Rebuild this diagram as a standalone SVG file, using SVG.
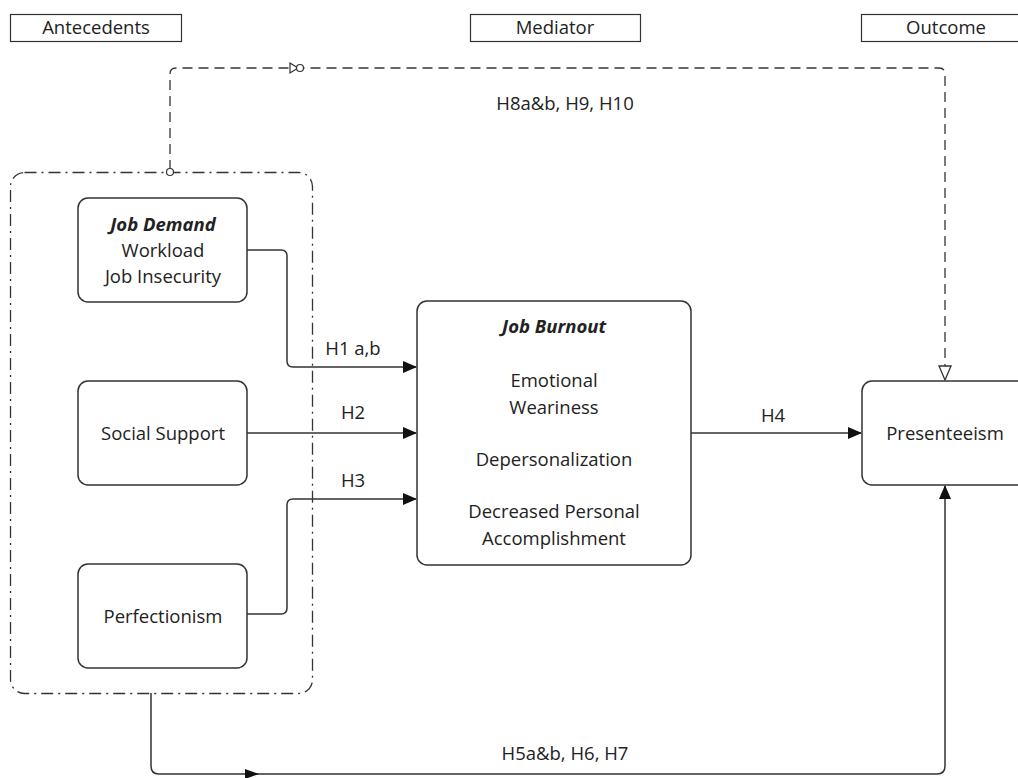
<svg xmlns="http://www.w3.org/2000/svg" width="1018" height="778" viewBox="0 0 1018 778">
<style>
text{font-family:"Open Sans","Liberation Sans",sans-serif;font-size:18.5px;fill:#222;text-anchor:middle}
.node{fill:#fff;stroke:#333;stroke-width:1.5}
.hdr{fill:#fff;stroke:#333;stroke-width:1.2}
.ln{fill:none;stroke:#333;stroke-width:1.5}
.dash{fill:none;stroke:#333;stroke-width:1.3;stroke-dasharray:10,6}
.grp{fill:none;stroke:#333;stroke-width:1.3;stroke-dasharray:12,5,2,5}
.bi{font-weight:bold;font-style:italic}
</style>
<defs>
<marker id="arr" markerWidth="14" markerHeight="12" refX="13" refY="6" orient="auto" markerUnits="userSpaceOnUse">
<path d="M0,0 L14,6 L0,12 Z" fill="#111"/>
</marker>
<marker id="open" markerWidth="16" markerHeight="14" refX="15" refY="7" orient="auto" markerUnits="userSpaceOnUse">
<path d="M1,1 L15,7 L1,13 Z" fill="#fff" stroke="#333" stroke-width="1.3"/>
</marker>
</defs>
<rect width="1018" height="778" fill="#fff"/>

<g id="header-antecedents"><rect class="hdr" x="10.5" y="14.5" width="171" height="27"/><text x="96" y="34">Antecedents</text></g>
<g id="header-mediator"><rect class="hdr" x="470.5" y="14.5" width="170" height="27"/><text x="555" y="34">Mediator</text></g>
<g id="header-outcome"><rect class="hdr" x="861.5" y="14.5" width="170" height="27"/><text x="946" y="34">Outcome</text></g>

<g id="antecedents-group"><rect class="grp" x="10.5" y="172.5" width="302" height="521" rx="14"/></g>

<g id="connectors">
<path class="dash" d="M170,170 V74 Q170,68 176,68 H939 Q945,68 945,74 V380" marker-end="url(#open)"/>
<path d="M290,63 L298,68 L290,73 Z" fill="#fff" stroke="#333" stroke-width="1.2"/>
<circle cx="300" cy="68" r="3.5" fill="#fff" stroke="#333" stroke-width="1.2"/>
<circle cx="170" cy="172" r="3.5" fill="#fff" stroke="#333" stroke-width="1.2"/>
<path class="ln" d="M247,250 H281 Q287,250 287,256 V361 Q287,367 293,367 H416" marker-end="url(#arr)"/>
<path class="ln" d="M247,433 H416" marker-end="url(#arr)"/>
<path class="ln" d="M247,614 H281 Q287,614 287,608 V505 Q287,499 293,499 H416" marker-end="url(#arr)"/>
<path class="ln" d="M691,433 H861" marker-end="url(#arr)"/>
<path class="ln" d="M151,693 V766 Q151,774 159,774 H937 Q945,774 945,766 V486" marker-end="url(#arr)"/>
<path d="M245,769 L259,774 L245,779 Z" fill="#111"/>
<text x="353" y="355">H1 a,b</text>
<text x="353" y="419">H2</text>
<text x="353" y="487">H3</text>
<text x="773" y="422">H4</text>
<text x="565" y="110">H8a&amp;b, H9, H10</text>
<text x="565" y="760">H5a&amp;b, H6, H7</text>
</g>

<g id="job-demand"><rect class="node" x="78" y="198" width="169" height="104" rx="10"/>
<text x="163" y="231" class="bi">Job Demand</text><text x="163" y="257">Workload</text><text x="163" y="283">Job Insecurity</text></g>
<g id="social-support"><rect class="node" x="78" y="381" width="169" height="104" rx="10"/><text x="163" y="440">Social Support</text></g>
<g id="perfectionism"><rect class="node" x="78" y="564" width="169" height="104" rx="10"/><text x="163" y="623">Perfectionism</text></g>
<g id="job-burnout"><rect class="node" x="417" y="301" width="274" height="264" rx="10"/>
<text x="554" y="333" class="bi">Job Burnout</text>
<text x="554" y="387">Emotional</text><text x="554" y="414">Weariness</text>
<text x="554" y="466">Depersonalization</text>
<text x="554" y="518">Decreased Personal</text><text x="554" y="545">Accomplishment</text></g>
<g id="presenteeism"><rect class="node" x="862" y="381" width="170" height="104" rx="10"/><text x="945" y="440">Presenteeism</text></g>
</svg>
